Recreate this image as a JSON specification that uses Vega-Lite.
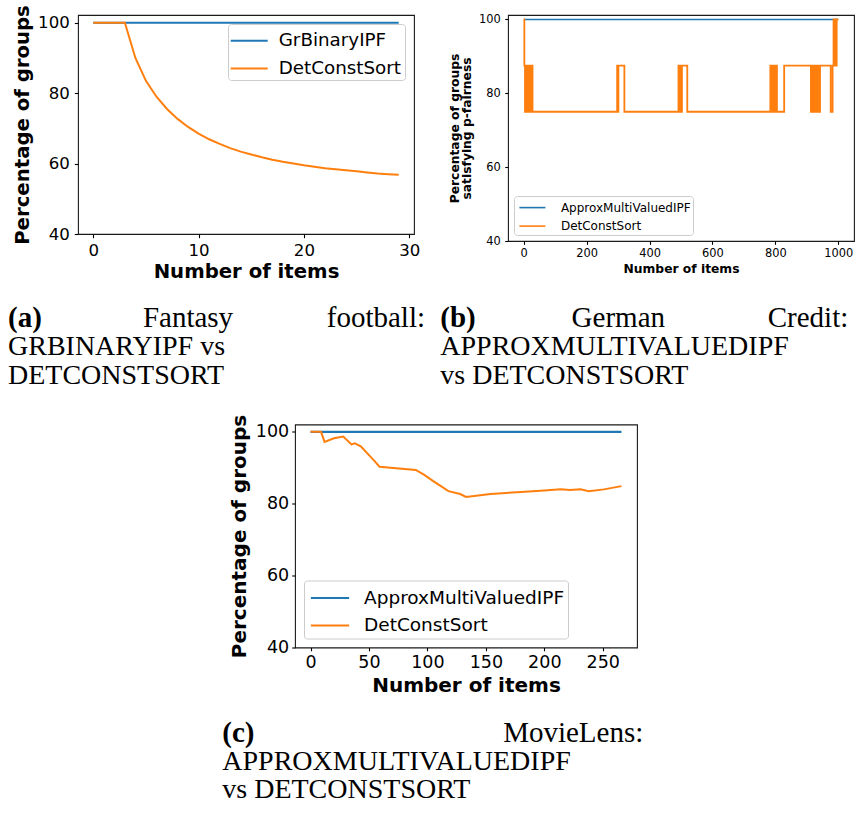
{
  "$schema": "https://vega.github.io/schema/vega-lite/v6.json",
  "padding": {"left": 8, "top": 4, "right": 0, "bottom": 0},
  "config": {
    "font": "DejaVu Sans",
    "view": {"stroke": "#1a1a1a", "strokeWidth": 1.1},
    "axis": {"grid": false, "domain": false, "tickColor": "#000", "tickWidth": 1.1, "labelColor": "#000", "titleColor": "#000", "labelFont": "DejaVu Sans", "titleFont": "DejaVu Sans", "titleFontWeight": "bold", "labelFlush": false, "labelOverlap": false, "format": "d"},
    "legend": {"labelFont": "DejaVu Sans", "labelColor": "#000", "fillColor": "rgba(255,255,255,0.85)", "strokeColor": "#cccccc", "cornerRadius": 3, "labelLimit": 400},
    "text": {"font": "Liberation Serif", "fontSize": 28, "baseline": "middle", "color": "#000"}
  },
  "datasets": {
    "fantasy": [
      {"items": 0, "pct": 100, "method": "GrBinaryIPF"}, {"items": 1, "pct": 100, "method": "GrBinaryIPF"}, {"items": 2, "pct": 100, "method": "GrBinaryIPF"}, {"items": 3, "pct": 100, "method": "GrBinaryIPF"}, {"items": 4, "pct": 100, "method": "GrBinaryIPF"}, {"items": 5, "pct": 100, "method": "GrBinaryIPF"}, {"items": 6, "pct": 100, "method": "GrBinaryIPF"}, {"items": 7, "pct": 100, "method": "GrBinaryIPF"}, {"items": 8, "pct": 100, "method": "GrBinaryIPF"}, {"items": 9, "pct": 100, "method": "GrBinaryIPF"},
      {"items": 10, "pct": 100, "method": "GrBinaryIPF"}, {"items": 11, "pct": 100, "method": "GrBinaryIPF"}, {"items": 12, "pct": 100, "method": "GrBinaryIPF"}, {"items": 13, "pct": 100, "method": "GrBinaryIPF"}, {"items": 14, "pct": 100, "method": "GrBinaryIPF"}, {"items": 15, "pct": 100, "method": "GrBinaryIPF"}, {"items": 16, "pct": 100, "method": "GrBinaryIPF"}, {"items": 17, "pct": 100, "method": "GrBinaryIPF"}, {"items": 18, "pct": 100, "method": "GrBinaryIPF"}, {"items": 19, "pct": 100, "method": "GrBinaryIPF"},
      {"items": 20, "pct": 100, "method": "GrBinaryIPF"}, {"items": 21, "pct": 100, "method": "GrBinaryIPF"}, {"items": 22, "pct": 100, "method": "GrBinaryIPF"}, {"items": 23, "pct": 100, "method": "GrBinaryIPF"}, {"items": 24, "pct": 100, "method": "GrBinaryIPF"}, {"items": 25, "pct": 100, "method": "GrBinaryIPF"}, {"items": 26, "pct": 100, "method": "GrBinaryIPF"}, {"items": 27, "pct": 100, "method": "GrBinaryIPF"}, {"items": 28, "pct": 100, "method": "GrBinaryIPF"}, {"items": 29, "pct": 100, "method": "GrBinaryIPF"},
      {"items": 0, "pct": 100, "method": "DetConstSort"}, {"items": 1, "pct": 100, "method": "DetConstSort"}, {"items": 2, "pct": 100, "method": "DetConstSort"}, {"items": 3, "pct": 100, "method": "DetConstSort"}, {"items": 4, "pct": 90.0, "method": "DetConstSort"}, {"items": 5, "pct": 83.5, "method": "DetConstSort"}, {"items": 6, "pct": 79.0, "method": "DetConstSort"}, {"items": 7, "pct": 75.5, "method": "DetConstSort"}, {"items": 8, "pct": 72.7, "method": "DetConstSort"}, {"items": 9, "pct": 70.4, "method": "DetConstSort"},
      {"items": 10, "pct": 68.5, "method": "DetConstSort"}, {"items": 11, "pct": 66.9, "method": "DetConstSort"}, {"items": 12, "pct": 65.6, "method": "DetConstSort"}, {"items": 13, "pct": 64.4, "method": "DetConstSort"}, {"items": 14, "pct": 63.4, "method": "DetConstSort"}, {"items": 15, "pct": 62.6, "method": "DetConstSort"}, {"items": 16, "pct": 61.8, "method": "DetConstSort"}, {"items": 17, "pct": 61.1, "method": "DetConstSort"}, {"items": 18, "pct": 60.5, "method": "DetConstSort"}, {"items": 19, "pct": 60.0, "method": "DetConstSort"},
      {"items": 20, "pct": 59.5, "method": "DetConstSort"}, {"items": 21, "pct": 59.1, "method": "DetConstSort"}, {"items": 22, "pct": 58.7, "method": "DetConstSort"}, {"items": 23, "pct": 58.4, "method": "DetConstSort"}, {"items": 24, "pct": 58.1, "method": "DetConstSort"}, {"items": 25, "pct": 57.8, "method": "DetConstSort"}, {"items": 26, "pct": 57.5, "method": "DetConstSort"}, {"items": 27, "pct": 57.2, "method": "DetConstSort"}, {"items": 28, "pct": 57.0, "method": "DetConstSort"}, {"items": 29, "pct": 56.8, "method": "DetConstSort"}
    ],
    "german": [
      {"items": 0, "pct": 100, "method": "ApproxMultiValuedIPF"}, {"items": 1000, "pct": 100, "method": "ApproxMultiValuedIPF"},
      {"items": 0, "pct": 100, "method": "DetConstSort"}, {"items": 2, "pct": 87.5, "method": "DetConstSort"}, {"items": 4, "pct": 75, "method": "DetConstSort"}, {"items": 6, "pct": 87.5, "method": "DetConstSort"}, {"items": 9, "pct": 75, "method": "DetConstSort"}, {"items": 11, "pct": 87.5, "method": "DetConstSort"}, {"items": 16, "pct": 75, "method": "DetConstSort"}, {"items": 18, "pct": 87.5, "method": "DetConstSort"}, {"items": 23, "pct": 75, "method": "DetConstSort"}, {"items": 25, "pct": 87.5, "method": "DetConstSort"}, {"items": 28, "pct": 75, "method": "DetConstSort"},
      {"items": 297, "pct": 87.5, "method": "DetConstSort"}, {"items": 299, "pct": 75, "method": "DetConstSort"}, {"items": 301, "pct": 87.5, "method": "DetConstSort"}, {"items": 320, "pct": 75, "method": "DetConstSort"},
      {"items": 492, "pct": 87.5, "method": "DetConstSort"}, {"items": 495, "pct": 75, "method": "DetConstSort"}, {"items": 497, "pct": 87.5, "method": "DetConstSort"}, {"items": 500, "pct": 75, "method": "DetConstSort"}, {"items": 503, "pct": 87.5, "method": "DetConstSort"}, {"items": 520, "pct": 75, "method": "DetConstSort"},
      {"items": 784, "pct": 87.5, "method": "DetConstSort"}, {"items": 787, "pct": 75, "method": "DetConstSort"}, {"items": 790, "pct": 87.5, "method": "DetConstSort"}, {"items": 792, "pct": 75, "method": "DetConstSort"}, {"items": 796, "pct": 87.5, "method": "DetConstSort"}, {"items": 800, "pct": 75, "method": "DetConstSort"}, {"items": 802, "pct": 87.5, "method": "DetConstSort"}, {"items": 805, "pct": 75, "method": "DetConstSort"}, {"items": 828, "pct": 87.5, "method": "DetConstSort"},
      {"items": 913, "pct": 75, "method": "DetConstSort"}, {"items": 915, "pct": 87.5, "method": "DetConstSort"}, {"items": 920, "pct": 75, "method": "DetConstSort"}, {"items": 922, "pct": 87.5, "method": "DetConstSort"}, {"items": 927, "pct": 75, "method": "DetConstSort"}, {"items": 929, "pct": 87.5, "method": "DetConstSort"}, {"items": 934, "pct": 75, "method": "DetConstSort"}, {"items": 936, "pct": 87.5, "method": "DetConstSort"}, {"items": 940, "pct": 75, "method": "DetConstSort"}, {"items": 942, "pct": 87.5, "method": "DetConstSort"},
      {"items": 976, "pct": 75, "method": "DetConstSort"}, {"items": 982, "pct": 87.5, "method": "DetConstSort"}, {"items": 985, "pct": 100, "method": "DetConstSort"}, {"items": 987, "pct": 87.5, "method": "DetConstSort"}, {"items": 990, "pct": 100, "method": "DetConstSort"}, {"items": 993, "pct": 87.5, "method": "DetConstSort"}, {"items": 995, "pct": 100, "method": "DetConstSort"}, {"items": 1000, "pct": 100, "method": "DetConstSort"}
    ],
    "movielens": [
      {"items": 0, "pct": 100, "method": "ApproxMultiValuedIPF"}, {"items": 266, "pct": 100, "method": "ApproxMultiValuedIPF"},
      {"items": 0, "pct": 100, "method": "DetConstSort"}, {"items": 9, "pct": 100, "method": "DetConstSort"}, {"items": 12, "pct": 97.2, "method": "DetConstSort"}, {"items": 20, "pct": 98.2, "method": "DetConstSort"}, {"items": 28, "pct": 98.7, "method": "DetConstSort"}, {"items": 35, "pct": 96.5, "method": "DetConstSort"}, {"items": 38, "pct": 96.8, "method": "DetConstSort"}, {"items": 43, "pct": 96.0, "method": "DetConstSort"}, {"items": 51, "pct": 93.2, "method": "DetConstSort"}, {"items": 55, "pct": 91.8, "method": "DetConstSort"}, {"items": 59, "pct": 90.3, "method": "DetConstSort"},
      {"items": 90, "pct": 89.4, "method": "DetConstSort"}, {"items": 97, "pct": 88.1, "method": "DetConstSort"}, {"items": 105, "pct": 86.3, "method": "DetConstSort"}, {"items": 118, "pct": 83.5, "method": "DetConstSort"}, {"items": 128, "pct": 82.7, "method": "DetConstSort"}, {"items": 133, "pct": 81.9, "method": "DetConstSort"}, {"items": 154, "pct": 82.7, "method": "DetConstSort"}, {"items": 180, "pct": 83.3, "method": "DetConstSort"}, {"items": 200, "pct": 83.7, "method": "DetConstSort"}, {"items": 214, "pct": 84.0, "method": "DetConstSort"},
      {"items": 222, "pct": 83.8, "method": "DetConstSort"}, {"items": 231, "pct": 84.0, "method": "DetConstSort"}, {"items": 238, "pct": 83.5, "method": "DetConstSort"}, {"items": 251, "pct": 84.0, "method": "DetConstSort"}, {"items": 266, "pct": 84.9, "method": "DetConstSort"}
    ],
    "captions": [
      {"panel": "a", "line": 1, "word": 1, "text": "(a)"},
      {"panel": "a", "line": 1, "word": 2, "text": "Fantasy"},
      {"panel": "a", "line": 1, "word": 3, "text": "football:"},
      {"panel": "a", "line": 2, "word": 1, "text": "GRBINARYIPF vs"},
      {"panel": "a", "line": 3, "word": 1, "text": "DETCONSTSORT"},
      {"panel": "b", "line": 1, "word": 1, "text": "(b)"},
      {"panel": "b", "line": 1, "word": 2, "text": "German"},
      {"panel": "b", "line": 1, "word": 3, "text": "Credit:"},
      {"panel": "b", "line": 2, "word": 1, "text": "APPROXMULTIVALUEDIPF"},
      {"panel": "b", "line": 3, "word": 1, "text": "vs DETCONSTSORT"},
      {"panel": "c", "line": 1, "word": 1, "text": "(c)"},
      {"panel": "c", "line": 1, "word": 2, "text": "MovieLens:"},
      {"panel": "c", "line": 2, "word": 1, "text": "APPROXMULTIVALUEDIPF"},
      {"panel": "c", "line": 3, "word": 1, "text": "vs DETCONSTSORT"}
    ]
  },
  "align": "each",
  "spacing": 21,
  "resolve": {"scale": {"color": "independent"}, "legend": {"color": "independent"}},
  "vconcat": [
    {
      "spacing": 26,
      "resolve": {"scale": {"color": "independent"}, "legend": {"color": "independent"}},
      "hconcat": [
        {
          "width": 336, "height": 219,
          "data": {"name": "fantasy"},
          "encoding": {
            "x": {"field": "items", "type": "quantitative", "scale": {"domain": [-1.45, 30.45], "nice": false, "zero": false},
                  "axis": {"values": [0, 10, 20, 30], "title": "Number of items", "labelFontSize": 16.6, "titleFontSize": 19.7, "tickSize": 3.7, "labelPadding": 4.5, "titlePadding": 3}},
            "y": {"field": "pct", "type": "quantitative", "scale": {"domain": [40, 102.2], "nice": false, "zero": false},
                  "axis": {"values": [40, 60, 80, 100], "title": "Percentage of groups", "labelFontSize": 16.6, "titleFontSize": 19.7, "tickSize": 3.7, "labelPadding": 5, "titlePadding": 5}},
            "color": {"field": "method", "type": "nominal", "scale": {"domain": ["GrBinaryIPF", "DetConstSort"], "range": ["#1f77b4", "#ff7f0e"]},
                      "legend": {"title": null, "orient": "top-right", "offset": 9, "padding": 3.2, "labelFontSize": 18.3, "symbolType": "M-1.5,0H1.5", "symbolSize": 608, "symbolStrokeWidth": 2, "symbolOffset": 4.5, "labelOffset": 16, "rowPadding": 5.8}}
          },
          "layer": [
            {"transform": [{"filter": "datum.method == 'GrBinaryIPF'"}], "mark": {"type": "line", "strokeWidth": 2.2}},
            {"transform": [{"filter": "datum.method == 'DetConstSort'"}], "mark": {"type": "line", "strokeWidth": 2}}
          ]
        },
        {
          "width": 346, "height": 226,
          "data": {"name": "german"},
          "encoding": {
            "x": {"field": "items", "type": "quantitative", "scale": {"domain": [-50, 1050], "nice": false, "zero": false},
                  "axis": {"values": [0, 200, 400, 600, 800, 1000], "title": "Number of items", "labelFontSize": 11.4, "titleFontSize": 12.3, "tickSize": 3.3, "labelPadding": 3, "titlePadding": 4}},
            "y": {"field": "pct", "type": "quantitative", "scale": {"domain": [40, 101.2], "nice": false, "zero": false},
                  "axis": {"values": [40, 60, 80, 100], "title": ["Percentage of groups", "satisfying p-fairness"], "labelFontSize": 11.4, "titleFontSize": 12.3, "titleLineHeight": 12, "tickSize": 3.3, "labelPadding": 4.5, "titlePadding": 5}},
            "color": {"field": "method", "type": "nominal", "scale": {"domain": ["ApproxMultiValuedIPF", "DetConstSort"], "range": ["#1f77b4", "#ff7f0e"]},
                      "legend": {"title": null, "orient": "bottom-left", "offset": 6, "padding": 2.1, "labelFontSize": 12, "symbolType": "M-1.5,0H1.5", "symbolSize": 300, "symbolStrokeWidth": 1.6, "symbolOffset": 6.8, "labelOffset": 19, "rowPadding": 2.5}}
          },
          "layer": [
            {"transform": [{"filter": "datum.method == 'ApproxMultiValuedIPF'"}], "mark": {"type": "line", "strokeWidth": 1.6}},
            {"transform": [{"filter": "datum.method == 'DetConstSort'"}], "mark": {"type": "line", "strokeWidth": 1.8, "interpolate": "step-after"}}
          ]
        }
      ]
    },
    {
      "align": "each",
      "spacing": 23.5,
      "resolve": {"scale": {"color": "independent"}, "legend": {"color": "independent"}},
      "vconcat": [
        {
          "spacing": 15,
          "hconcat": [
            {
              "width": 336, "height": 86, "view": {"stroke": null},
              "data": {"name": "captions"},
              "transform": [{"filter": "datum.panel == 'a'"}],
              "encoding": {
                "x": {"field": "word", "type": "quantitative", "scale": {"domain": [1, 2, 3], "range": [-70, 110, 347]}, "axis": null},
                "y": {"field": "line", "type": "ordinal", "scale": {"type": "point", "domain": [1, 2, 3], "padding": 0.5}, "axis": null},
                "text": {"field": "text"}
              },
              "layer": [
                {"transform": [{"filter": "datum.line == 1 && datum.word == 1"}], "mark": {"type": "text", "align": "left", "fontWeight": "bold", "fontSize": 29}},
                {"transform": [{"filter": "datum.line > 1"}], "mark": {"type": "text", "align": "left"}},
                {"transform": [{"filter": "datum.line == 1 && datum.word == 2"}], "mark": {"type": "text", "align": "center", "fontSize": 29}},
                {"transform": [{"filter": "datum.line == 1 && datum.word == 3"}], "mark": {"type": "text", "align": "right", "fontSize": 29}}
              ]
            },
            {
              "width": 336, "height": 86, "view": {"stroke": null},
              "data": {"name": "captions"},
              "transform": [{"filter": "datum.panel == 'b'"}],
              "encoding": {
                "x": {"field": "word", "type": "quantitative", "scale": {"domain": [1, 2, 3], "range": [-66.7, 111.3, 341.3]}, "axis": null},
                "y": {"field": "line", "type": "ordinal", "scale": {"type": "point", "domain": [1, 2, 3], "padding": 0.5}, "axis": null},
                "text": {"field": "text"}
              },
              "layer": [
                {"transform": [{"filter": "datum.line == 1 && datum.word == 1"}], "mark": {"type": "text", "align": "left", "fontWeight": "bold", "fontSize": 29}},
                {"transform": [{"filter": "datum.line > 1"}], "mark": {"type": "text", "align": "left"}},
                {"transform": [{"filter": "datum.line == 1 && datum.word == 2"}], "mark": {"type": "text", "align": "center", "fontSize": 29}},
                {"transform": [{"filter": "datum.line == 1 && datum.word == 3"}], "mark": {"type": "text", "align": "right", "fontSize": 29}}
              ]
            }
          ]
        },
        {
          "spacing": 0,
          "resolve": {"scale": {"color": "independent"}, "legend": {"color": "independent"}},
          "hconcat": [
            {
              "width": 144, "height": 1, "view": {"stroke": null},
              "data": {"values": []},
              "mark": "point",
              "encoding": {}
            },
            {
              "align": "each",
              "spacing": 22,
              "resolve": {"scale": {"color": "independent"}, "legend": {"color": "independent"}},
              "vconcat": [
                {
                  "width": 342, "height": 223,
                  "data": {"name": "movielens"},
                  "encoding": {
                    "x": {"field": "items", "type": "quantitative", "scale": {"domain": [-13.3, 279.3], "nice": false, "zero": false},
                          "axis": {"values": [0, 50, 100, 150, 200, 250], "title": "Number of items", "labelFontSize": 17.5, "titleFontSize": 20, "tickSize": 3.3, "labelPadding": 2.5, "titlePadding": 5}},
                    "y": {"field": "pct", "type": "quantitative", "scale": {"domain": [40, 102.05], "nice": false, "zero": false},
                          "axis": {"values": [40, 60, 80, 100], "title": "Percentage of groups", "labelFontSize": 17.5, "titleFontSize": 20, "tickSize": 3.3, "labelPadding": 3, "titlePadding": 6}},
                    "color": {"field": "method", "type": "nominal", "scale": {"domain": ["ApproxMultiValuedIPF", "DetConstSort"], "range": ["#1f77b4", "#ff7f0e"]},
                              "legend": {"title": null, "orient": "bottom-left", "offset": 9, "padding": 3.4, "labelFontSize": 18.5, "symbolType": "M-1.5,0H1.5", "symbolSize": 651, "symbolStrokeWidth": 2, "symbolOffset": 8.6, "labelOffset": 20, "rowPadding": 3.5}}
                  },
                  "layer": [
                    {"transform": [{"filter": "datum.method == 'ApproxMultiValuedIPF'"}], "mark": {"type": "line", "strokeWidth": 2.2}},
                    {"transform": [{"filter": "datum.method == 'DetConstSort'"}], "mark": {"type": "line", "strokeWidth": 2}}
                  ]
                },
                {
                  "width": 342, "height": 86, "view": {"stroke": null},
                  "data": {"name": "captions"},
                  "transform": [{"filter": "datum.panel == 'c'"}],
                  "encoding": {
                    "x": {"field": "word", "type": "quantitative", "scale": {"domain": [1, 2], "range": [-72.7, 348.3]}, "axis": null},
                    "y": {"field": "line", "type": "ordinal", "scale": {"type": "point", "domain": [1, 2, 3], "padding": 0.5}, "axis": null},
                    "text": {"field": "text"}
                  },
                  "layer": [
                    {"transform": [{"filter": "datum.line == 1 && datum.word == 1"}], "mark": {"type": "text", "align": "left", "fontWeight": "bold", "fontSize": 29}},
                    {"transform": [{"filter": "datum.line > 1"}], "mark": {"type": "text", "align": "left"}},
                    {"transform": [{"filter": "datum.line == 1 && datum.word == 2"}], "mark": {"type": "text", "align": "right", "fontSize": 29}}
                  ]
                }
              ]
            }
          ]
        }
      ]
    }
  ]
}
